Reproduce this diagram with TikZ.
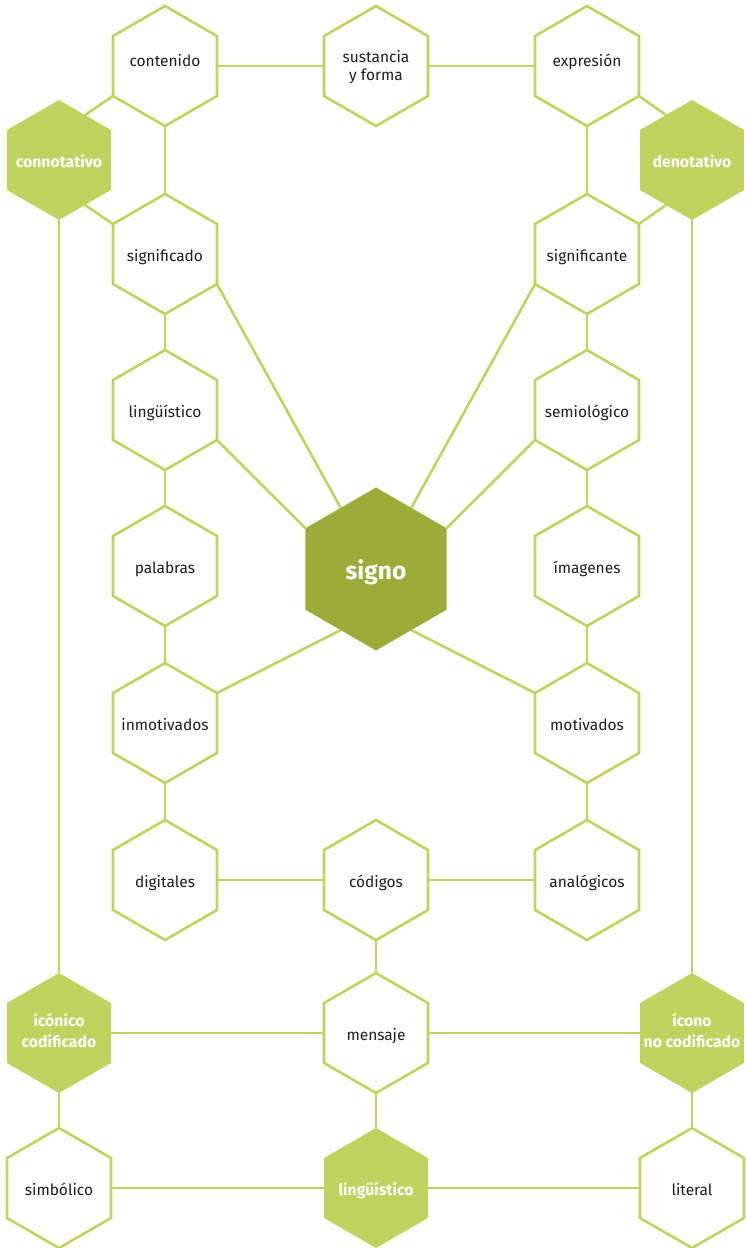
\documentclass[tikz,border=0pt]{standalone}
\usepackage{fontspec}
\setmainfont{Fira Sans}
\usetikzlibrary{shapes.geometric}
\definecolor{lime}{HTML}{C0D35E}
\definecolor{olive}{HTML}{9BAC38}
\definecolor{ink}{HTML}{1E1E1E}
\newcommand\hl[2][-7.5pt]{\makebox[0pt][c]{\raisebox{#1}[0pt][0pt]{\begin{tabular}{@{}c@{}}#2\end{tabular}}}}
\begin{document}
\begin{tikzpicture}[x=1pt,y=-1pt,
  hexbase/.style={regular polygon, regular polygon sides=6, shape border rotate=30,
    minimum size=120pt, inner sep=0pt, outer sep=0pt, line width=2.6pt},
  hexw/.style={hexbase, draw=lime, fill=white, text=ink, font=\fontsize{15.5}{18.5}\selectfont},
  hexg/.style={hexbase, fill=lime, text=white, font=\fontsize{15.8}{21}\selectfont\bfseries},
  hexbig/.style={hexbase, fill=olive, text=white, minimum size=163pt, font=\fontsize{24.5}{27}\selectfont\bfseries},
  link/.style={draw=lime, line width=2.6pt}]
\useasboundingbox (0,0) rectangle (746,1248);
% nodes
\node[hexw] (contenido) at (165,66) {\hl[0pt]{contenido}};
\node[hexw] (sustancia) at (376,66) {\hl[-5.5pt]{sustancia\\y forma}};
\node[hexw] (expresion) at (587,66) {\hl[0pt]{expresión}};
\node[hexg] (connotativo) at (59,160) {\hl[-7pt]{connotativo}};
\node[hexg] (denotativo) at (692,160) {\hl[-7pt]{denotativo}};
\node[hexw] (significado) at (165,254) {\hl{significado}};
\node[hexw] (significante) at (587,254) {\hl{significante}};
\node[hexw] (linguistico) at (165,410) {\hl{lingüístico}};
\node[hexw] (semiologico) at (587,410) {\hl{semiológico}};
\node[hexw] (palabras) at (165,566) {\hl{palabras}};
\node[hexw] (imagenes) at (587,566) {\hl{ímagenes}};
\node[hexbig] (signo) at (376,569) {\hl[-10.5pt]{signo}};
\node[hexw] (inmotivados) at (165,723) {\hl{inmotivados}};
\node[hexw] (motivados) at (587,723) {\hl{motivados}};
\node[hexw] (digitales) at (165,880) {\hl{digitales}};
\node[hexw] (codigos) at (376,880) {\hl{códigos}};
\node[hexw] (analogicos) at (587,880) {\hl{analógicos}};
\node[hexg] (iconicocod) at (59,1033) {\hl[-3.5pt]{icónico\\codificado}};
\node[hexw] (mensaje) at (376,1033) {\hl{mensaje}};
\node[hexg] (iconononcod) at (692,1033) {\hl[-3.5pt]{ícono\\no codificado}};
\node[hexw] (simbolico) at (59,1188) {\hl{simbólico}};
\node[hexg] (linguistico2) at (376,1188) {\hl[-7pt]{lingüístico}};
\node[hexw] (literal) at (692,1188) {\hl{literal}};
% connectors
\path[link] (contenido.east) -- (sustancia.west);
\path[link] (sustancia.east) -- (expresion.west);
\path[link] (connotativo.60) -- (contenido.210);
\path[link] (connotativo.300) -- (significado.150);
\path[link] (denotativo.120) -- (expresion.330);
\path[link] (denotativo.240) -- (significante.30);
\path[link] (contenido.south) -- (significado.north);
\path[link] (expresion.south) -- (significante.north);
\path[link] (significado.south) -- (linguistico.north);
\path[link] (significante.south) -- (semiologico.north);
\path[link] (linguistico.south) -- (palabras.north);
\path[link] (semiologico.south) -- (imagenes.north);
\path[link] (palabras.south) -- (inmotivados.north);
\path[link] (imagenes.south) -- (motivados.north);
\path[link] (inmotivados.south) -- (digitales.north);
\path[link] (motivados.south) -- (analogicos.north);
\path[link] (significado.330) -- (signo.120);
\path[link] (significante.210) -- (signo.60);
\path[link] (linguistico.330) -- (signo.150);
\path[link] (semiologico.210) -- (signo.30);
\path[link] (inmotivados.30) -- (signo.240);
\path[link] (motivados.150) -- (signo.300);
\path[link] (digitales.east) -- (codigos.west);
\path[link] (codigos.east) -- (analogicos.west);
\path[link] (codigos.south) -- (mensaje.north);
\path[link] (connotativo.south) -- (iconicocod.north);
\path[link] (denotativo.south) -- (iconononcod.north);
\path[link] (iconicocod.east) -- (mensaje.west);
\path[link] (mensaje.east) -- (iconononcod.west);
\path[link] (mensaje.south) -- (linguistico2.north);
\path[link] (iconicocod.south) -- (simbolico.north);
\path[link] (iconononcod.south) -- (literal.north);
\path[link] (simbolico.east) -- (linguistico2.west);
\path[link] (linguistico2.east) -- (literal.west);
\end{tikzpicture}
\end{document}
